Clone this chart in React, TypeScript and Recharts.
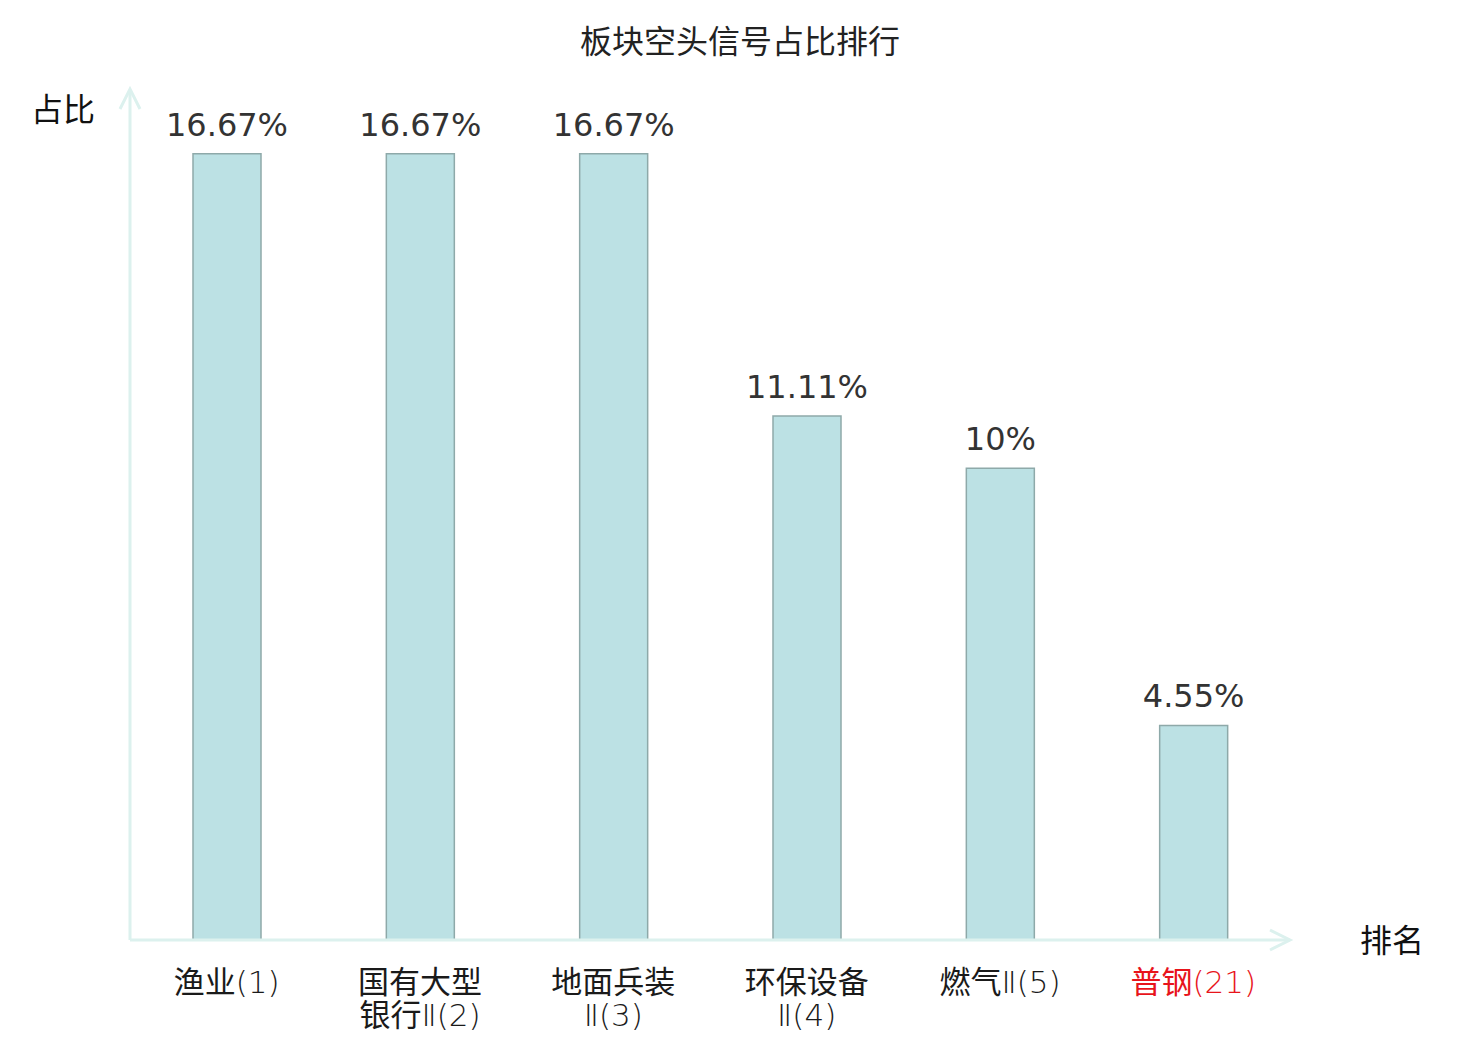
import { BarChart, Bar, XAxis, YAxis, LabelList } from "recharts"

const categories = ["渔业(1)", "国有大型\n银行Ⅱ(2)", "地面兵装\nⅡ(3)", "环保设备\nⅡ(4)", "燃气Ⅱ(5)", "普钢(21)"]
const shares = [16.67, 16.67, 16.67, 11.11, 10, 4.55]
const highlighted = ["普钢(21)"]

const data = categories.map((name, i) => ({ name, value: shares[i] }))

const W = 1480
const H = 1040
// plot box: x 130..1290, y 91..940
const M = { top: 91, right: 190, bottom: 70, left: 70 }
const FONT = "'DejaVu Sans', 'Noto Sans CJK SC', sans-serif"
const AXIS = "#dcf1ee"

// CJK glyphs stay regular, latin runs (digits, brackets, Ⅱ) are drawn thin like the reference
function runs(line: string) {
  return line.split(/([\u4e00-\u9fff]+)/).filter((s) => s.length > 0)
}

function Tick(props: any) {
  const { x, y, payload } = props
  const lines: string[] = String(payload.value).split("\n")
  const color = highlighted.includes(payload.value) ? "#e8141b" : "#1a1a1a"
  return (
    <text x={x} y={y + 45} textAnchor="middle" fill={color} fontSize={31} fontFamily={FONT}>
      {lines.map((l, i) => (
        <tspan key={i} x={x} dy={i === 0 ? 0 : 33}>
          {runs(l).map((r, j) => (
            <tspan key={j} fontWeight={/[\u4e00-\u9fff]/.test(r) ? 400 : 200}>
              {r}
            </tspan>
          ))}
        </tspan>
      ))}
    </text>
  )
}

export default function App() {
  const left = 130
  const right = W - M.right
  const bottom = 940
  return (
    <div style={{ position: "absolute", left: 0, top: 0, width: W, height: H, background: "#fff" }}>
      <BarChart width={W} height={H} data={data} margin={M} barCategoryGap={0}>
        <XAxis
          dataKey="name"
          height={30}
          axisLine={{ stroke: AXIS, strokeWidth: 3 }}
          tickLine={false}
          tick={<Tick />}
          interval={0}
        />
        <YAxis
          domain={[0, 18]}
          width={60}
          axisLine={{ stroke: AXIS, strokeWidth: 3 }}
          tick={false}
          tickLine={false}
        />
        <Bar dataKey="value" fill="#bce1e4" stroke="#8ea9a9" strokeWidth={1.5} barSize={68} isAnimationActive={false}>
          <LabelList
            dataKey="value"
            position="top"
            offset={18}
            formatter={(v: any) => `${v}%`}
            style={{ fill: "#333", fontSize: 32, fontFamily: FONT }}
          />
        </Bar>
      </BarChart>
      <svg width={W} height={H} style={{ position: "absolute", left: 0, top: 0, pointerEvents: "none" }}>
        <polyline
          points={`${left - 10},${M.top + 18} ${left},${M.top - 2} ${left + 10},${M.top + 18}`}
          fill="none"
          stroke={AXIS}
          strokeWidth={3}
        />
        <polyline
          points={`${right - 20},${bottom - 10} ${right},${bottom} ${right - 20},${bottom + 10}`}
          fill="none"
          stroke={AXIS}
          strokeWidth={3}
        />
        <text x={W / 2} y={53} textAnchor="middle" fontSize={32} fill="#222" fontFamily={FONT}>
          板块空头信号占比排行
        </text>
        <text x={63} y={121} textAnchor="middle" fontSize={32} fill="#111" fontFamily={FONT}>
          占比
        </text>
        <text x={1392} y={952} textAnchor="middle" fontSize={32} fill="#111" fontFamily={FONT}>
          排名
        </text>
      </svg>
    </div>
  )
}
